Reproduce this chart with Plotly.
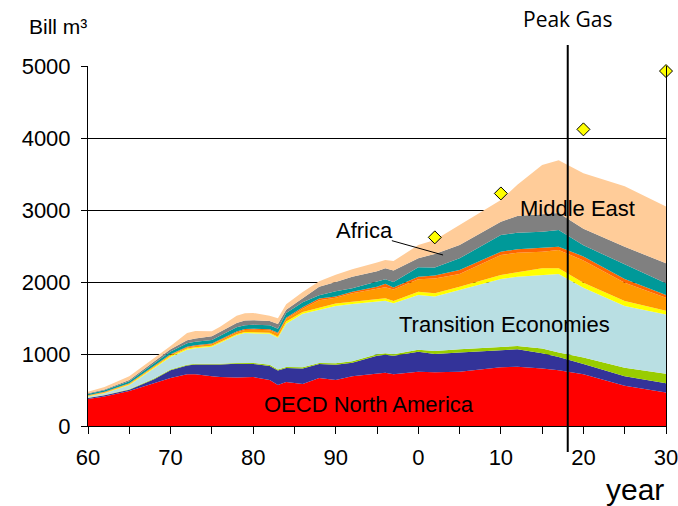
import plotly.graph_objects as go

years = [1960, 1962, 1965, 1968, 1970, 1972, 1973, 1975, 1976, 1978, 1979, 1980,
         1982, 1983, 1984, 1986, 1988, 1990, 1992, 1995, 1996, 1997, 2000, 2002,
         2005, 2010, 2012, 2015, 2017, 2020, 2025, 2030]

oecd_north_america = [375, 410, 485, 590, 665, 720, 720, 690, 680, 675, 675, 680,
                      640, 570, 610, 585, 665, 640, 690, 730, 740, 720, 755, 745,
                      755, 815, 824, 800, 775, 720, 560, 465]
oecd_europe = [15, 18, 20, 60, 110, 120, 135, 160, 175, 190, 190, 182,
               195, 200, 195, 215, 195, 210, 190, 245, 250, 255, 275, 255,
               265, 235, 241, 210, 185, 140, 130, 130]
oecd_pacific = [3, 3, 5, 8, 10, 10, 10, 10, 10, 10, 13, 13,
                15, 15, 15, 15, 15, 20, 20, 20, 20, 20, 30, 40,
                45, 45, 46, 65, 60, 90, 120, 130]
transition_economies = [17, 24, 60, 142, 175, 210, 215, 240, 285, 385, 412, 415,
                        430, 440, 600, 745, 740, 795, 794, 730, 731, 709, 759, 760,
                        824, 947, 963, 1022, 1090, 970, 855, 823]
china = [7, 8, 10, 12, 15, 15, 15, 15, 15, 15, 15, 15,
         15, 15, 30, 25, 30, 35, 33, 35, 32, 31, 47, 45,
         46, 55, 56, 93, 80, 70, 70, 52]
asia = [6, 7, 10, 12, 13, 15, 15, 20, 25, 25, 30, 33,
        35, 40, 40, 45, 100, 80, 116, 140, 153, 160, 171, 205,
        176, 278, 277, 231, 254, 310, 255, 182]
south_asia = [3, 4, 5, 6, 7, 10, 10, 10, 10, 12, 13, 14,
              15, 15, 15, 20, 25, 20, 23, 35, 49, 30, 37, 40,
              56, 46, 47, 60, 47, 55, 50, 37]
latin_america = [19, 21, 25, 35, 40, 50, 50, 50, 55, 58, 52, 53,
                 55, 55, 65, 70, 45, 70, 46, 65, 62, 75, 130, 110,
                 162, 232, 231, 218, 231, 155, 200, 162]
africa = [10, 13, 20, 25, 30, 40, 45, 50, 50, 60, 65, 65,
          60, 65, 45, 60, 120, 130, 162, 150, 153, 160, 125, 190,
          185, 185, 232, 241, 238, 230, 250, 278]
middle_east = [20, 32, 50, 50, 45, 100, 105, 70, 75, 100, 100, 100,
               70, 80, 75, 80, 75, 100, 102, 120, 116, 130, 185, 193,
               278, 301, 433, 685, 730, 770, 840, 791]

demand_years = [2002, 2010, 2020, 2030]
demand_values = [2620, 3230, 4120, 4930]

peak_year = 2018.1

x_tickvals = [1960, 1965, 1970, 1975, 1980, 1985, 1990, 1995, 2000, 2005, 2010, 2015,
              2020, 2025, 2030]
x_ticktext = ["60", "", "70", "", "80", "", "90", "", "0", "", "10", "", "20", "", "30"]
y_tickvals = [0, 1000, 2000, 3000, 4000, 5000]

layers = [
    ("OECD North America", oecd_north_america, "#ff0000"),
    ("OECD Europe", oecd_europe, "#333399"),
    ("OECD Pacific", oecd_pacific, "#99cc00"),
    ("Transition Economies", transition_economies, "#b9dfe3"),
    ("China", china, "#ffff00"),
    ("Asia", asia, "#ff9900"),
    ("South Asia", south_asia, "#ff6600"),
    ("Latin America", latin_america, "#009999"),
    ("Africa", africa, "#808080"),
    ("Middle East", middle_east, "#ffcc99"),
]

fig = go.Figure()
for name, vals, col in layers:
    fig.add_trace(go.Scatter(
        x=years, y=vals, name=name, mode="lines", stackgroup="one",
        line=dict(width=0, color=col), fillcolor=col, showlegend=False,
        hoverinfo="skip"))

fig.add_trace(go.Scatter(
    x=demand_years, y=demand_values, mode="markers", showlegend=False,
    cliponaxis=False,
    marker=dict(symbol="diamond", size=10, color="#ffff00",
                line=dict(color="#000000", width=1))))

# Peak Gas vertical line
fig.add_shape(type="line", xref="x", yref="paper", x0=peak_year, x1=peak_year,
              y0=-0.072, y1=1.058, line=dict(color="#000000", width=2), layer="above")
# Africa pointer
fig.add_shape(type="line", xref="x", yref="y", x0=1996.8, y0=2574, x1=2003.0, y1=2375,
              line=dict(color="#000000", width=1), layer="above")

font_main = "Liberation Sans, Arial, sans-serif"


def label(text, x, y, size, family=font_main, ref="data"):
    kw = {}
    if ref == "paper":
        kw = dict(xref="paper", yref="paper")
    fig.add_annotation(x=x, y=y, text=text, showarrow=False, xanchor="center",
                       yanchor="middle",
                       font=dict(family=family, size=size, color="#000000"), **kw)


label("OECD North America", 1994.0, 305, 22)
label("Transition Economies", 2010.5, 1403, 22)
label("Middle East", 2019.3, 3014, 22)
label("Africa", 1993.5, 2722, 22)
label("Peak Gas", (567.5 - 88) / 578, (426 - 18.5) / 360, 21,
      family="Open Sans, sans-serif", ref="paper")
label("Bill m³", (58 - 88) / 578, (426 - 27) / 360, 21, ref="paper")
label("year", (635 - 88) / 578, (426 - 489) / 360, 30, ref="paper")

fig.update_layout(
    width=678, height=506,
    margin=dict(l=88, r=12, t=66, b=80),
    paper_bgcolor="#ffffff", plot_bgcolor="#ffffff",
    xaxis=dict(range=[1960, 2030], tickmode="array", tickvals=x_tickvals,
               ticktext=x_ticktext, ticks="outside", ticklen=7, tickwidth=1,
               tickcolor="#000000", showline=True, linecolor="#000000", linewidth=1,
               showgrid=False, zeroline=False, automargin=False,
               ticklabelstandoff=5, ticklabeloverflow="allow",
               tickfont=dict(family=font_main, size=22, color="#000000")),
    yaxis=dict(range=[0, 5000], tickmode="array", tickvals=y_tickvals,
               ticks="outside", ticklen=6, tickwidth=1, tickcolor="#000000",
               showline=True, mirror=True, linecolor="#000000", linewidth=1,
               showgrid=True, gridcolor="#000000", gridwidth=1, zeroline=False,
               automargin=False, ticklabeloverflow="allow",
               tickfont=dict(family=font_main, size=22, color="#000000"),
               ticklabelstandoff=6),
)

fig.write_html("out.html", config={"displayModeBar": False},
               post_script="document.body.style.margin='0';document.body.style.overflow='hidden';")
